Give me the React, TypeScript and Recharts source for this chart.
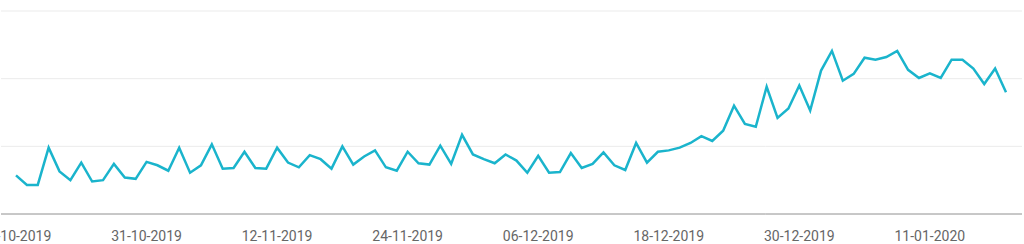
import React from "react";
import { LineChart, Line, XAxis, YAxis, CartesianGrid } from "recharts";

// daily values, 19-10-2019 .. 18-01-2020
const values = [
  57, 43, 43, 98, 63, 50, 76, 48, 50, 74, 54, 52, 77, 72, 64, 98, 61, 72, 103, 67,
  68, 92, 68, 67, 98, 76, 69, 87, 81, 67, 100, 73, 85, 94, 69, 64, 92, 75, 73, 101,
  74, 117, 88, 81, 75, 88, 79, 61, 86, 61, 62, 90, 68, 74, 91, 72, 65, 105, 76, 92,
  94, 98, 105, 115, 108, 123, 160, 133, 129, 188, 142, 156, 190, 153, 212, 241, 197, 207, 231, 228,
  232, 241, 213, 201, 208, 201, 228, 228, 215, 192, 215, 180,
];

const startDate = new Date(2019, 9, 19);
const pad = (n: number) => (n < 10 ? "0" + n : String(n));
const dates = values.map((_, i) => {
  const d = new Date(startDate.getFullYear(), startDate.getMonth(), startDate.getDate() + i);
  return `${pad(d.getDate())}-${pad(d.getMonth() + 1)}-${d.getFullYear()}`;
});

const yTicks = [0, 100, 200, 300];

const data = dates.map((date, i) => ({ date, value: values[i] }));

const App: React.FC = () => {
  return (
    <div style={{ position: "absolute", left: 0, top: 0, width: 1024, height: 244 }}>
      <LineChart
        width={1024}
        height={244}
        data={data}
        margin={{ top: 11, right: 2, left: 1, bottom: 0 }}
      >
        <CartesianGrid vertical={false} stroke="#ebebeb" />
        <XAxis
          dataKey="date"
          height={30}
          interval={11}
          padding={{ left: 15, right: 16 }}
          tickLine={false}
          tickSize={0}
          tickMargin={17}
          axisLine={{ stroke: "#9a9a9a" }}
          tick={{ fontSize: 14, fill: "#666", fontFamily: "Roboto" }}
        />
        <YAxis hide domain={[0, 300]} ticks={yTicks} />
        <Line
          type="linear"
          dataKey="value"
          stroke="#1ab4cc"
          strokeWidth={2.5}
          dot={false}
          isAnimationActive={false}
        />
      </LineChart>
    </div>
  );
};

export default App;
